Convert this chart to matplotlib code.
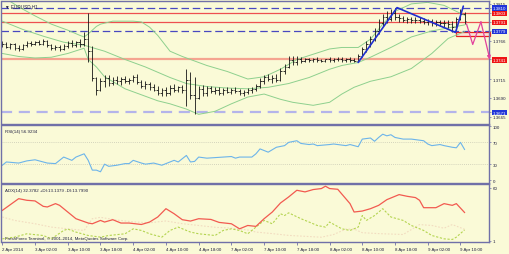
import matplotlib.pyplot as plt
from matplotlib.patches import Rectangle

plt.rcParams['font.family'] = ['Liberation Sans', 'DejaVu Sans']

BG = '#FAFAD7'
FRAME = '#7070A8'
TXT = '#202040'

# EURUSD H1 bars, index 0 = first bar on screen
opens = [1.3762, 1.3761, 1.3758, 1.3761, 1.3756, 1.3755, 1.3760, 1.3763, 1.3762, 1.3764,
         1.3762, 1.3765, 1.3760, 1.3756, 1.3757, 1.3755, 1.3759, 1.3763, 1.3760, 1.3764,
         1.3761, 1.3768, 1.3752, 1.3716, 1.3701, 1.3712, 1.3716, 1.3710, 1.3714, 1.3712,
         1.3715, 1.3713, 1.3714, 1.3718, 1.3711, 1.3706, 1.3708, 1.3704, 1.3701, 1.3697,
         1.3700, 1.3696, 1.3703, 1.3701, 1.3704, 1.3700, 1.3714, 1.3694, 1.3690, 1.3702,
         1.3697, 1.3703, 1.3699, 1.3701, 1.3697, 1.3700, 1.3698, 1.3701, 1.3699, 1.3696,
         1.3698, 1.3700, 1.3702, 1.3706, 1.3713, 1.3718, 1.3715, 1.3717, 1.3714, 1.3726,
         1.3731, 1.3740, 1.3737, 1.3742, 1.3739, 1.3741, 1.3740, 1.3741, 1.3740, 1.3739,
         1.3741, 1.3740, 1.3741, 1.3742, 1.3740, 1.3741, 1.3740, 1.3739, 1.3746, 1.3755,
         1.3762, 1.3768, 1.3779, 1.3790, 1.3798, 1.3795, 1.3803, 1.3798, 1.3796, 1.3794,
         1.3795, 1.3793, 1.3794, 1.3792, 1.3791, 1.3792, 1.3790, 1.3791, 1.3789, 1.3790,
         1.3788, 1.3784, 1.3795, 1.3801]
highs = [1.3765, 1.3764, 1.3763, 1.3763, 1.3760, 1.3762, 1.3765, 1.3766, 1.3766, 1.3767,
         1.3768, 1.3767, 1.3762, 1.3760, 1.3760, 1.3761, 1.3766, 1.3767, 1.3766, 1.3768,
         1.3777, 1.3803, 1.3759, 1.3718, 1.3716, 1.3720, 1.3721, 1.3718, 1.3719, 1.3718,
         1.3719, 1.3717, 1.3721, 1.3722, 1.3714, 1.3712, 1.3711, 1.3709, 1.3706, 1.3703,
         1.3704, 1.3707, 1.3708, 1.3706, 1.3707, 1.3728, 1.3724, 1.3718, 1.3706, 1.3707,
         1.3706, 1.3706, 1.3705, 1.3704, 1.3703, 1.3704, 1.3703, 1.3704, 1.3702, 1.3701,
         1.3703, 1.3704, 1.3709, 1.3716, 1.3721, 1.3722, 1.3720, 1.3722, 1.3729, 1.3735,
         1.3745, 1.3746, 1.3745, 1.3744, 1.3743, 1.3743, 1.3743, 1.3744, 1.3742, 1.3742,
         1.3744, 1.3743, 1.3744, 1.3744, 1.3743, 1.3744, 1.3743, 1.3748, 1.3758, 1.3766,
         1.3772, 1.3783, 1.3795, 1.3802, 1.3806, 1.3808, 1.3810, 1.3802, 1.3799, 1.3798,
         1.3798, 1.3797, 1.3797, 1.3796, 1.3795, 1.3795, 1.3794, 1.3794, 1.3793, 1.3793,
         1.3792, 1.3797, 1.3808, 1.3804]
lows = [1.3757, 1.3756, 1.3755, 1.3754, 1.3752, 1.3754, 1.3758, 1.3759, 1.3760, 1.3760,
        1.3760, 1.3758, 1.3754, 1.3753, 1.3752, 1.3753, 1.3756, 1.3757, 1.3758, 1.3758,
        1.3759, 1.3737, 1.3712, 1.3694, 1.3699, 1.3705, 1.3706, 1.3707, 1.3709, 1.3707,
        1.3710, 1.3708, 1.3711, 1.3709, 1.3703, 1.3702, 1.3701, 1.3699, 1.3694, 1.3692,
        1.3693, 1.3694, 1.3698, 1.3698, 1.3697, 1.3679, 1.3688, 1.3668, 1.3689, 1.3693,
        1.3692, 1.3696, 1.3695, 1.3694, 1.3694, 1.3696, 1.3695, 1.3696, 1.3694, 1.3693,
        1.3695, 1.3696, 1.3699, 1.3703, 1.3709, 1.3712, 1.3710, 1.3711, 1.3712, 1.3722,
        1.3729, 1.3733, 1.3734, 1.3736, 1.3737, 1.3738, 1.3737, 1.3738, 1.3737, 1.3737,
        1.3738, 1.3738, 1.3739, 1.3738, 1.3737, 1.3738, 1.3737, 1.3737, 1.3744, 1.3751,
        1.3757, 1.3765, 1.3775, 1.3786, 1.3790, 1.3792, 1.3794, 1.3791, 1.3791, 1.3790,
        1.3790, 1.3789, 1.3789, 1.3788, 1.3787, 1.3786, 1.3786, 1.3785, 1.3784, 1.3783,
        1.3777, 1.3781, 1.3793, 1.3788]
closes = [1.3761, 1.3758, 1.3761, 1.3756, 1.3755, 1.3760, 1.3763, 1.3762, 1.3764, 1.3762,
          1.3765, 1.3760, 1.3756, 1.3757, 1.3755, 1.3759, 1.3763, 1.3760, 1.3764, 1.3761,
          1.3768, 1.3752, 1.3716, 1.3701, 1.3712, 1.3716, 1.3710, 1.3714, 1.3712, 1.3715,
          1.3713, 1.3714, 1.3718, 1.3711, 1.3706, 1.3708, 1.3704, 1.3701, 1.3697, 1.3700,
          1.3696, 1.3703, 1.3701, 1.3704, 1.3700, 1.3714, 1.3694, 1.3690, 1.3702, 1.3697,
          1.3703, 1.3699, 1.3701, 1.3697, 1.3700, 1.3698, 1.3701, 1.3699, 1.3696, 1.3698,
          1.3700, 1.3702, 1.3706, 1.3713, 1.3718, 1.3715, 1.3717, 1.3714, 1.3726, 1.3731,
          1.3740, 1.3737, 1.3742, 1.3739, 1.3741, 1.3740, 1.3741, 1.3740, 1.3739, 1.3741,
          1.3740, 1.3741, 1.3742, 1.3740, 1.3741, 1.3740, 1.3739, 1.3746, 1.3755, 1.3762,
          1.3768, 1.3779, 1.3790, 1.3798, 1.3795, 1.3803, 1.3798, 1.3796, 1.3794, 1.3795,
          1.3793, 1.3794, 1.3792, 1.3791, 1.3792, 1.3790, 1.3791, 1.3789, 1.3790, 1.3788,
          1.3784, 1.3795, 1.3801, 1.3792]

# Bollinger bands, read at sparse bars
bb_up_idx = [0, 4, 8, 12, 16, 19, 20, 21, 23, 24, 27, 32, 34, 36, 38, 41, 44, 47, 50, 55,
             60, 64, 68, 72, 76, 80, 83, 87, 90, 93, 96, 100, 104, 108, 111, 113]
bb_up = [1.3825, 1.3811, 1.3799, 1.3788, 1.3780, 1.3773, 1.3771, 1.3775, 1.3785, 1.3788,
         1.3792, 1.3792, 1.3791, 1.3784, 1.3773, 1.3752, 1.3745, 1.3739, 1.3733, 1.3725,
         1.3715, 1.3718, 1.3728, 1.3741, 1.3748, 1.3755, 1.3757, 1.3757, 1.3768, 1.3788,
         1.3805, 1.3815, 1.3817, 1.3813, 1.3805, 1.3800]
bb_mid_idx = [0, 5, 10, 15, 20, 25, 30, 35, 41, 45, 50, 55, 60, 65, 70, 75, 80, 83, 87,
              90, 95, 100, 105, 110, 113]
bb_mid = [1.3792, 1.3781, 1.3772, 1.3764, 1.3760, 1.3752, 1.3741, 1.3731, 1.3717, 1.3709,
          1.3705, 1.3703, 1.3702, 1.3704, 1.3709, 1.3717, 1.3728, 1.3733, 1.3737, 1.3744,
          1.3757, 1.3771, 1.3779, 1.3784, 1.3787]
bb_low_idx = [0, 4, 8, 12, 16, 20, 21, 23, 25, 30, 34, 38, 41, 45, 48, 52, 56, 60, 64, 68,
              71, 76, 80, 83, 86, 90, 95, 100, 105, 109, 113]
bb_low = [1.3749, 1.3745, 1.3743, 1.3744, 1.3749, 1.3756, 1.3741, 1.3731, 1.3718, 1.3702,
          1.3694, 1.3686, 1.3682, 1.3675, 1.3668, 1.3672, 1.3682, 1.3691, 1.3695, 1.3688,
          1.3684, 1.3680, 1.3684, 1.3695, 1.3704, 1.3712, 1.3718, 1.3729, 1.3749, 1.3769,
          1.3778]

# drawn objects
trend_idx = [87, 96.5, 110.8, 112.7]
trend_price = [1.3737, 1.3810, 1.3777, 1.3812]
fcast_idx = [113.5, 115, 117, 119.2]
fcast_price = [1.3788, 1.3761, 1.3791, 1.3741]
box_idx = [110.8, 119.2]
box_price = [1.3772, 1.3777]

blue_levels = [1.3810, 1.3779]
red_levels = [1.3803, 1.3791]
support_level = 1.3741
low_level = 1.3671
price_ticks = [1.3815, 1.3766, 1.3715, 1.3690, 1.3665]

# RSI(14)
rsi_idx = [0, 1, 4, 6, 8, 11, 13, 15, 16, 17, 18, 20, 21, 22, 23, 24, 25, 26, 28, 30,
           31, 32, 34, 35, 37, 39, 41, 42, 43, 45, 46, 47, 48, 50, 52, 54, 56, 57, 58, 61,
           62, 63, 65, 67, 69, 70, 72, 73, 75, 76, 77, 80, 81, 84, 85, 87, 88, 90, 91, 92,
           93, 94, 95, 96, 98, 100, 103, 104, 105, 107, 108, 110, 111, 112, 113]
rsi = [28, 34, 32, 36, 38, 32, 31, 43, 40, 37, 43, 49, 37, 19, 19, 16, 30, 26, 28, 31,
       31, 37, 32, 30, 32, 28, 34, 37, 34, 46, 34, 35, 43, 41, 42, 43, 44, 41, 43, 43,
       49, 58, 52, 61, 64, 70, 73, 68, 66, 67, 64, 66, 67, 64, 66, 62, 76, 78, 72, 79,
       85, 82, 84, 79, 76, 76, 73, 67, 64, 66, 64, 61, 60, 70, 57]

# ADX(14), +DI, -DI
adx_idx = [0, 4, 6, 8, 10, 11, 13, 14, 16, 18, 21, 22, 24, 25, 27, 29, 31, 34, 36, 38,
           40, 42, 44, 46, 48, 51, 53, 56, 58, 60, 62, 64, 66, 68, 70, 72, 74, 76, 78, 79,
           80, 82, 85, 86, 88, 90, 92, 94, 97, 99, 101, 102, 103, 106, 108, 110, 111, 113]
adx = [34.7, 47.7, 45.9, 45.2, 39.2, 38.5, 42.2, 40.3, 32.9, 25.5, 20.7, 19.9, 23.6, 21.8,
       24.4, 20.7, 20.7, 19.1, 21.8, 27.4, 36.6, 31.0, 24.4, 22.9, 25.5, 24.7, 21.4, 19.9,
       14.3, 18.0, 17.0, 25.5, 32.9, 42.9, 49.6, 57.0, 55.2, 57.8, 58.9, 61.5, 58.9, 58.1,
       42.2, 32.9, 34.0, 36.6, 40.3, 46.6, 52.2, 50.3, 48.9, 45.9, 37.7, 37.7, 42.2, 40.3,
       42.2, 32.4]
pdi_idx = [0, 3, 6, 10, 12, 15, 16, 18, 21, 24, 26, 30, 32, 34, 36, 39, 41, 43, 46, 48,
           52, 54, 56, 58, 60, 62, 64, 66, 68, 69, 70, 73, 75, 77, 79, 80, 83, 85, 87, 88,
           89, 91, 93, 95, 98, 100, 103, 105, 108, 110, 111, 113]
pdi = [3.2, 5.1, 8.8, 6.9, 3.2, 12.5, 14.0, 10.7, 6.9, 5.1, 6.9, 8.8, 14.3, 12.5, 8.8,
       5.1, 12.5, 16.2, 10.7, 8.8, 6.9, 12.5, 14.3, 12.5, 8.8, 16.2, 23.6, 19.9, 31.0,
       29.0, 32.0, 25.5, 21.8, 18.0, 16.2, 21.8, 14.3, 12.5, 16.2, 29.0, 23.6, 29.0, 36.6,
       27.4, 23.6, 18.0, 12.5, 6.9, 3.2, 2.5, 5.1, 13.1]
mdi_idx = [0, 3, 8, 12, 16, 20, 22, 24, 28, 32, 36, 40, 44, 48, 52, 56, 60, 62, 66, 70,
           74, 78, 81, 84, 86, 88, 92, 98, 102, 105, 108, 110, 113]
mdi = [27.4, 23.6, 19.9, 16.2, 14.3, 12.5, 25.5, 27.0, 24.0, 22.0, 21.0, 23.0, 20.0,
       18.0, 16.0, 15.0, 13.0, 10.7, 9.0, 7.0, 6.0, 5.0, 8.0, 14.0, 14.0, 10.0, 9.0, 8.0,
       19.0, 18.0, 15.0, 19.0, 13.8]

time_labels = ['2 Apr 2014', '3 Apr 02:00', '3 Apr 10:00', '3 Apr 18:00', '4 Apr 02:00',
               '4 Apr 10:00', '4 Apr 18:00', '7 Apr 02:00', '7 Apr 10:00', '7 Apr 18:00',
               '8 Apr 02:00', '8 Apr 10:00', '8 Apr 18:00', '9 Apr 02:00', '9 Apr 10:00']
label_idx = list(range(0, 113, 8))

W, H = 510, 255
fig = plt.figure(figsize=(W / 100, H / 100), dpi=100)
fig.patch.set_facecolor(BG)


def panel(top, bottom):
    ax = fig.add_axes([1.5 / W, 1 - bottom / H, 488 / W, (bottom - top) / H])
    ax.set_facecolor(BG)
    for s in ax.spines.values():
        s.set_color(FRAME)
        s.set_linewidth(1.0)
    ax.set_xlim(-0.2, 119.1)
    ax.yaxis.tick_right()
    ax.tick_params(axis='y', length=1.5, width=0.5, color=FRAME, pad=1,
                   labelsize=3.2, labelcolor=TXT)
    ax.tick_params(axis='x', length=0, labelbottom=False)
    return ax


ax = panel(1.5, 124.5)
rsi_ax = panel(125.5, 183.5)
adx_ax = panel(184.5, 243)

# ---- main price panel ----
ax.set_ylim(1.36558, 1.38195)
for lv in blue_levels:
    ax.axhline(lv, color='#4848C0', lw=0.9, ls=(0, (6, 3)))
for lv in red_levels:
    ax.axhline(lv, color='#EE5050', lw=0.9)
ax.axhline(support_level, color='#F5A490', lw=1.6)
ax.axhline(low_level, color='#B4B4EA', lw=1.6, ls=(0, (5, 3)))

for idx, up in ((bb_up_idx, bb_up), (bb_mid_idx, bb_mid), (bb_low_idx, bb_low)):
    ax.plot(idx, up, color='#8ED08E', lw=0.7)

n = len(closes)
xs = list(range(n))
ax.vlines(xs, lows, highs, color='#151515', lw=0.6)
ax.hlines(opens, [x - 0.4 for x in xs], xs, color='#151515', lw=0.6)
ax.hlines(closes, xs, [x + 0.4 for x in xs], color='#151515', lw=0.6)

ax.plot(trend_idx, trend_price, color='#2030D0', lw=1.2, solid_capstyle='round')
ax.add_patch(Rectangle((box_idx[0], box_price[0]), box_idx[1] - box_idx[0],
                       box_price[1] - box_price[0], facecolor='#FBE3D6',
                       edgecolor='#E82020', lw=0.9, clip_on=False))
ax.plot(fcast_idx[:-1], fcast_price[:-1], color='#E2409C', lw=0.9, clip_on=False)
ax.annotate('', xy=(fcast_idx[-1], fcast_price[-1]), xytext=(fcast_idx[-2], fcast_price[-2]),
            arrowprops=dict(arrowstyle='-|>', color='#E2409C', lw=0.9,
                            mutation_scale=5, shrinkA=0, shrinkB=0),
            annotation_clip=False)

ticks = price_ticks + blue_levels + red_levels + [support_level, low_level]
ax.set_yticks(ticks)
ax.set_yticklabels([f'{t:.4f}' for t in ticks])
for t, lab in zip(ticks, ax.get_yticklabels()):
    if t in blue_levels or t == low_level:
        lab.set_color('white')
        lab.set_bbox(dict(boxstyle='square,pad=0.15', fc='#2035D8', ec='none'))
    elif t in red_levels or t == support_level:
        lab.set_color('white')
        lab.set_bbox(dict(boxstyle='square,pad=0.15', fc='#EE1515', ec='none'))
ax.text(0.008, 0.975, '\u25bc EURUSD,H1', transform=ax.transAxes, fontsize=3.3,
        color=TXT, va='top', ha='left')

# ---- RSI panel ----
rsi_ax.set_ylim(-3.7, 102.8)
for lv in (30, 70):
    rsi_ax.axhline(lv, color='#C8C8B4', lw=0.6, ls=(0, (1, 1.5)))
rsi_ax.plot(rsi_idx, rsi, color='#6CB4EA', lw=0.8)
rsi_ax.set_yticks([0, 30, 70, 100])
rsi_ax.text(0.008, 0.93, 'RSI(14) 56.9234', transform=rsi_ax.transAxes, fontsize=3.2,
            color=TXT, va='top', ha='left')

# ---- ADX panel ----
adx_ax.set_ylim(-0.3, 64.5)
adx_ax.plot(mdi_idx, mdi, color='#F2DCC0', lw=0.8, ls=(0, (1.5, 1.5)))
adx_ax.plot(pdi_idx, pdi, color='#B4D450', lw=0.8, ls=(0, (2, 1.5)))
adx_ax.plot(adx_idx, adx, color='#F25A50', lw=0.9)
adx_ax.set_yticks([1, 60])
adx_ax.text(0.008, 0.93, 'ADX(14) 32.3782 +DI:13.1379 -DI:13.7990',
            transform=adx_ax.transAxes, fontsize=3.2, color=TXT, va='top', ha='left')
adx_ax.text(0.008, 0.04, 'FreshForex Terminal, \u00a9 2001-2014, MetaQuotes Software Corp.',
            transform=adx_ax.transAxes, fontsize=3.2, color=TXT, va='bottom', ha='left')
adx_ax.set_xticks(label_idx)
adx_ax.set_xticklabels(time_labels, ha='left')
adx_ax.tick_params(axis='x', length=2, width=0.6, color=FRAME, pad=1.5,
                   labelbottom=True, labelsize=3.2, labelcolor=TXT)

fig.savefig('out.png', dpi=100, facecolor=BG)
